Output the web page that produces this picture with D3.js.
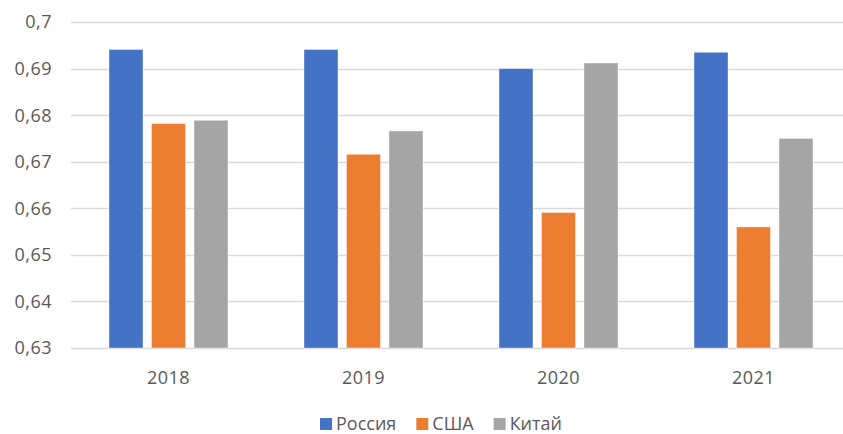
<!DOCTYPE html>
<html>
<head>
<meta charset="utf-8">
<script src="https://cdn.jsdelivr.net/npm/d3@7"></script>
<style>
  body { margin: 0; background: #fff; }
  text { font-family: "Open Sans", sans-serif; fill: #595959; }
</style>
</head>
<body>
<svg id="chart" width="843" height="434"></svg>
<script>
// data
const years = ['2018', '2019', '2020', '2021'];
const seriesNames = ['Россия', 'США', 'Китай'];
const russia = [0.6941, 0.6941, 0.6900, 0.6935];
const usa = [0.6782, 0.6716, 0.6591, 0.6560];
const china = [0.6789, 0.6766, 0.6912, 0.6750];
const yTicks = [0.63, 0.64, 0.65, 0.66, 0.67, 0.68, 0.69, 0.70];

const colors = ['#4472C4', '#ED7D31', '#A5A5A5'];
const seriesValues = [russia, usa, china];

const svg = d3.select('#chart');
const plotLeft = 71, plotRight = 851, plotTop = 22, plotBottom = 348;

const x = d3.scaleBand()
  .domain(years)
  .range([plotLeft, plotRight]);

const xInner = d3.scaleBand()
  .domain(seriesNames)
  .range([38, x.bandwidth() - 38])
  .paddingInner(0.2);

const y = d3.scaleLinear()
  .domain([0.63, 0.70])
  .range([plotBottom, plotTop]);

// gridlines
svg.append('g')
  .selectAll('line')
  .data(yTicks)
  .enter()
  .append('line')
  .attr('x1', plotLeft)
  .attr('x2', plotRight)
  .attr('y1', d => Math.round(y(d)) + 0.5)
  .attr('y2', d => Math.round(y(d)) + 0.5)
  .attr('stroke', '#d9d9d9')
  .attr('stroke-width', 1.3);

// y labels
const fmt = d => d3.format('.2~f')(d).replace('.', ',');
svg.append('g')
  .selectAll('text')
  .data(yTicks)
  .enter()
  .append('text')
  .attr('x', 52)
  .attr('y', d => y(d))
  .attr('dy', '0.36em')
  .attr('text-anchor', 'end')
  .style('font-size', '18px')
  .style('letter-spacing', '0.5px')
  .text(fmt);

// bars
const groups = svg.append('g')
  .selectAll('g')
  .data(years)
  .enter()
  .append('g')
  .attr('transform', d => `translate(${x(d)},0)`);

groups.selectAll('rect')
  .data((d, i) => seriesNames.map((s, k) => ({ s, k, v: seriesValues[k][i] })))
  .enter()
  .append('rect')
  .attr('x', d => xInner(d.s))
  .attr('width', xInner.bandwidth())
  .attr('y', d => y(d.v))
  .attr('height', d => y(0.63) - y(d.v))
  .attr('fill', d => colors[d.k])
  .attr('stroke', '#ffffff')
  .attr('stroke-opacity', 0.5)
  .attr('stroke-width', 0.8);

// x labels
svg.append('g')
  .selectAll('text')
  .data(years)
  .enter()
  .append('text')
  .attr('x', d => x(d) + x.bandwidth() / 2)
  .attr('y', 384)
  .attr('text-anchor', 'middle')
  .style('font-size', '18px')
  .style('letter-spacing', '0.5px')
  .text(d => d);

// legend
const legend = svg.append('g');
let cx = 0;
seriesNames.forEach((name, k) => {
  const item = legend.append('g').attr('transform', `translate(${cx},0)`);
  item.append('rect')
    .attr('x', 0).attr('y', 418)
    .attr('width', 12).attr('height', 12)
    .attr('fill', colors[k]);
  const t = item.append('text')
    .attr('x', 16).attr('y', 430)
    .style('font-size', '18px')
    .text(name);
  cx += 16 + t.node().getComputedTextLength() + 20;
});
const legendWidth = cx - 20;
legend.attr('transform', `translate(${441 - legendWidth / 2},0)`);
</script>
</body>
</html>
